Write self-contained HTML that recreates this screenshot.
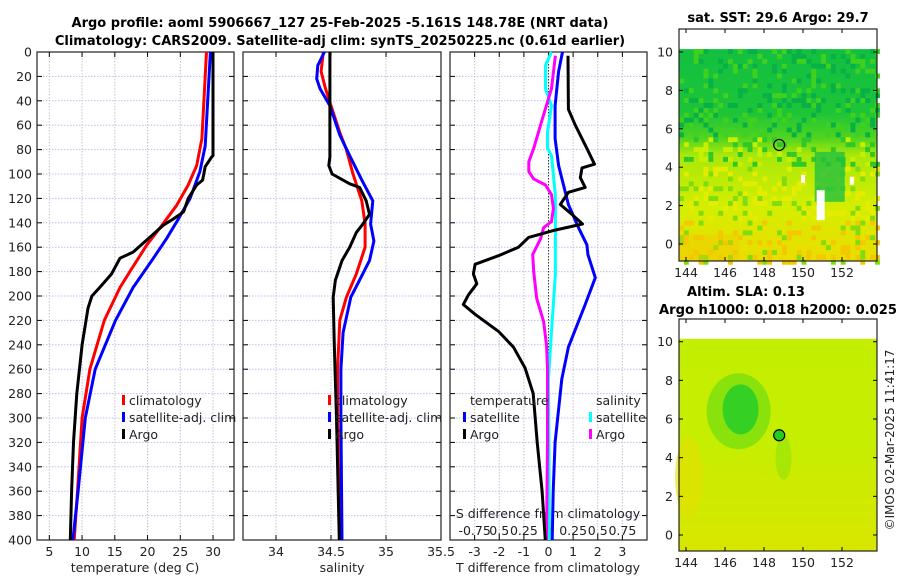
<!DOCTYPE html>
<html><head><meta charset="utf-8"><style>
html,body{margin:0;padding:0;background:#fff;}
svg{display:block;font-family:"DejaVu Sans","Liberation Sans",sans-serif;}
</style></head><body>
<svg id="fig" width="900" height="580" xmlns="http://www.w3.org/2000/svg">
<text x="340" y="27" text-anchor="middle" font-weight="bold" font-size="13">Argo profile: aoml 5906667_127 25-Feb-2025 -5.161S 148.78E (NRT data)</text>
<text x="340" y="45" text-anchor="middle" font-weight="bold" font-size="13">Climatology: CARS2009. Satellite-adj clim: synTS_20250225.nc (0.61d earlier)</text>
<text x="778" y="22" text-anchor="middle" font-weight="bold" font-size="13">sat. SST: 29.6 Argo: 29.7</text>
<text x="746" y="296" text-anchor="middle" font-weight="bold" font-size="13">Altim. SLA: 0.13</text>
<text x="659" y="314" font-weight="bold" font-size="13" textLength="238" lengthAdjust="spacingAndGlyphs">Argo h1000: 0.018 h2000: 0.025</text>
<text transform="translate(894,440) rotate(-90)" text-anchor="middle" font-size="12" fill="#222">©IMOS 02-Mar-2025 11:41:17</text>
<g id="g"></g>
</svg>
<script>
// ---- data (depth in m) ----
const tempArgoDepth=[0,85,86,94,105,109,120,131,137,142,153,164,169,182,193,200,210,240,280,320,360,400];
const tempArgo=[30.0,30.0,29.8,28.8,28.4,27.5,26.2,25.5,23.9,22.4,20.1,17.8,15.8,14.5,12.7,11.5,10.9,10.0,9.2,8.7,8.4,8.2];
const tempClimDepth=[0,71,93,109,126,142,158,180,193,220,260,300,360,400];
const tempClim=[29.0,28.3,27.5,26.2,24.4,22.2,19.9,17.3,15.8,13.4,11.2,10.0,9.3,8.8];
const tempSatDepth=[0,77,98,120,137,153,169,193,220,260,300,360,400];
const tempSat=[29.6,28.8,28.0,26.5,24.7,22.9,20.9,17.8,15.1,12.0,10.5,9.4,8.6];
const salArgoDepth=[0,86,93,100,108,111,122,133,141,148,160,171,187,201,240,300,400];
const salArgo=[34.49,34.49,34.48,34.51,34.67,34.76,34.82,34.85,34.79,34.73,34.67,34.60,34.54,34.52,34.53,34.55,34.575];
const salClimDepth=[0,16,30,44,66,80,100,122,141,160,182,201,220,260,300,400];
const salClim=[34.43,34.41,34.45,34.50,34.58,34.64,34.70,34.78,34.81,34.81,34.73,34.64,34.58,34.56,34.56,34.58];
const salSatDepth=[0,11,22,30,44,68,85,105,122,141,155,171,187,201,230,260,300,400];
const salSat=[34.44,34.38,34.37,34.40,34.49,34.58,34.67,34.78,34.88,34.86,34.89,34.85,34.76,34.68,34.61,34.59,34.59,34.60];
const dTArgoDepth=[3,47,60,79,92,95,103,111,115,125,133,141,146,152,160,167,174,182,190,199,207,215,229,242,259,280,320,360,400];
const dTArgo=[0.79,0.81,1.09,1.56,1.87,1.36,1.29,1.49,0.81,0.48,0.95,1.38,0.27,-0.81,-1.22,-2.03,-2.98,-3.05,-2.91,-3.25,-3.46,-2.98,-2.03,-1.42,-0.95,-0.62,-0.46,-0.26,-0.13];
const dTSatDepth=[0,16,44,71,93,125,144,158,166,185,207,242,268,320,360,400];
const dTSat=[0.57,0.41,0.27,0.27,0.41,0.81,1.22,1.56,1.60,1.90,1.49,0.81,0.54,0.27,0.19,0.15];
const dSSatDepth=[0,11,30,44,66,79,85,118,146,182,229,268,400];
const dSSat=[0.03,-0.03,-0.03,0.03,-0.01,-0.01,0.03,0.07,0.07,0.07,0.03,0.0,0.01];
const dSArgoDepth=[3,30,57,79,90,98,104,109,117,128,139,144,153,166,180,202,221,240,259,320,400];
const dSArgo=[0.07,0.03,-0.07,-0.15,-0.20,-0.20,-0.15,-0.03,0.03,0.05,0.03,-0.05,-0.08,-0.16,-0.15,-0.12,-0.05,-0.02,-0.01,-0.01,-0.02];
const depthTicks=[0,20,40,60,80,100,120,140,160,180,200,220,240,260,280,300,320,340,360,380,400];
const tempTicks=[5,10,15,20,25,30];
const salTicks=[34,34.5,35,35.5];
const dTTicks=[-3,-2,-1,0,1,2,3];
const dSTickLabels=["-0.75","0.5","0.25","0","0.25","0.5","0.75"];
const dSTicks=[-0.75,-0.5,-0.25,0,0.25,0.5,0.75];
const latTicks=[0,2,4,6,8,10];
const lonTicks=[144,146,148,150,152];
const argoLon=148.78, argoLat=5.16;

const NS="http://www.w3.org/2000/svg";
const G=document.getElementById('g');
function mk(tag,attrs,parent){const e=document.createElementNS(NS,tag);for(const k in attrs)e.setAttribute(k,attrs[k]);(parent||G).appendChild(e);return e;}
const Y0=52,Y1=540;
const yD=d=>Y0+(d/400)*(Y1-Y0);
const panels={
 temp:{x0:37,x1:234,d0:3.12,d1:33.2},
 sal:{x0:243,x1:441,d0:33.7,d1:35.5},
 dT:{x0:450,x1:647,d0:-4,d1:4},
};
function sx(p,v){return p.x0+(v-p.d0)/(p.d1-p.d0)*(p.x1-p.x0);}
function frame(p,ticks,name){
  const g=mk('g',{});
  
  
  depthTicks.forEach(d=>{const l=mk('line',{x1:p.x0,x2:p.x1,y1:yD(d),y2:yD(d),stroke:'#b8c4ec','stroke-width':1,'stroke-dasharray':'1.5,1.5'},g);
   
   mk('line',{x1:p.x0,x2:p.x0+5,y1:yD(d),y2:yD(d),stroke:'#000'},g);
   mk('line',{x1:p.x1-5,x2:p.x1,y1:yD(d),y2:yD(d),stroke:'#000'},g);});
  ticks.forEach(v=>{const x=sx(p,v);const l=mk('line',{x1:x,x2:x,y1:Y0,y2:Y1,stroke:'#d0bcd8','stroke-width':1,'stroke-dasharray':'1.5,1.5'},g);
   
   mk('line',{x1:x,x2:x,y1:Y1-5,y2:Y1,stroke:'#000'},g);mk('line',{x1:x,x2:x,y1:Y0,y2:Y0+5,stroke:'#000'},g);});
  mk('rect',{x:p.x0,y:Y0,width:p.x1-p.x0,height:Y1-Y0,fill:'none',stroke:'#222','stroke-width':1.2},g);
  return g;
}
function line(p,vals,deps,color,name,scale){
  const pts=vals.map((v,i)=>(sx(p,v*(scale||1))).toFixed(1)+','+yD(deps[i]).toFixed(1)).join(' ');
  const e=mk('polyline',{points:pts,fill:'none',stroke:color,'stroke-width':3,'stroke-linejoin':'round'});
  
  
}
function text(x,y,s,attrs,name){const t=mk('text',Object.assign({x:x,y:y,'font-size':12.5,fill:'#222'},attrs||{}));t.textContent=s;
  
  return t;}

// panel 1
const P1=panels.temp;
frame(P1,tempTicks,'temperature-panel');
depthTicks.forEach(d=>text(32,yD(d)+4.5,String(d),{'text-anchor':'end'},'depth-tick-label'));
tempTicks.forEach(v=>text(sx(P1,v),556,String(v),{'text-anchor':'middle'},'temp-tick-label'));
text(135,572,'temperature (deg C)',{'text-anchor':'middle'},'temp-axis-title');
line(P1,tempClim,tempClimDepth,'#ff0000','temp-clim-line');
line(P1,tempSat,tempSatDepth,'#0000ff','temp-sat-line');
line(P1,tempArgo,tempArgoDepth,'#000000','temp-argo-line');
// panel 2
const P2=panels.sal;
frame(P2,salTicks,'salinity-panel');
salTicks.forEach(v=>text(sx(P2,v),556,String(v),{'text-anchor':'middle'},'sal-tick-label'));
text(342,572,'salinity',{'text-anchor':'middle'},'sal-axis-title');
line(P2,salClim,salClimDepth,'#ff0000','sal-clim-line');
line(P2,salSat,salSatDepth,'#0000ff','sal-sat-line');
line(P2,salArgo,salArgoDepth,'#000000','sal-argo-line');
// panel 3
const P3=panels.dT;
frame(P3,dTTicks,'difference-panel');
dTTicks.forEach(v=>text(sx(P3,v),556,String(v),{'text-anchor':'middle'},'dT-tick-label'));
text(548,572,'T difference from climatology',{'text-anchor':'middle'},'dT-axis-title');
text(548,518,'S difference from climatology',{'text-anchor':'middle'},'dS-axis-title');
dSTicks.forEach((v,i)=>text(sx(P3,v*4),535,dSTickLabels[i],{'text-anchor':'middle'},'dS-tick-label'));
const zl=mk('line',{x1:sx(P3,0),x2:sx(P3,0),y1:Y0,y2:Y1,stroke:'#333','stroke-width':1,'stroke-dasharray':'1.5,1.5'});


line(P3,dSSat,dSSatDepth,'#00ffff','dS-sat-line',4);
line(P3,dSArgo,dSArgoDepth,'#ff00ff','dS-argo-line',4);
line(P3,dTSat,dTSatDepth,'#0000ff','dT-sat-line');
line(P3,dTArgo,dTArgoDepth,'#000000','dT-argo-line');

// legends
function leg(x,y,color,label,name){
  const g=mk('g',{});
  
  
  mk('rect',{x:x,y:y-10,width:3,height:10,fill:color},g);
  const t=mk('text',{x:x+7,y:y,'font-size':12.5,fill:'#222'},g);t.textContent=label;
}
leg(122,405,'#ff0000','climatology','legend-temp-clim');
leg(122,422,'#0000ff','satellite-adj. clim','legend-temp-sat');
leg(122,439,'#000000','Argo','legend-temp-argo');
leg(328,405,'#ff0000','climatology','legend-sal-clim');
leg(328,422,'#0000ff','satellite-adj. clim','legend-sal-sat');
leg(328,439,'#000000','Argo','legend-sal-argo');
text(470,405,'temperature',{},'legend-temperature-heading');
text(596,405,'salinity',{},'legend-salinity-heading');
leg(463,422,'#0000ff','satellite','legend-dT-sat');
leg(463,439,'#000000','Argo','legend-dT-argo');
leg(589,422,'#00ffff','satellite','legend-dS-sat');
leg(589,439,'#ff00ff','Argo','legend-dS-argo');

// maps
function hash(i,j){let h=(i*374761393+j*668265263)^0x5bd1e995;h=(h^(h>>>13))*1274126177;return ((h^(h>>>16))>>>0)/4294967296;}
function map(top,bot,lat10,lat0,name,kind){
  const mx0=679,mx1=877;
  const lx=lon=>686+(lon-144)*19.5;
  const ly=lat=>lat0+(lat10-lat0)*lat/10;
  const g=mk('g',{});
  
  
  const dataTop=ly(10.15);
  const id=name+'-grad';
  const defs=mk('defs',{},g);
  const lg=mk('linearGradient',{id:id,x1:0,y1:0,x2:0,y2:1},defs);
  const stops=kind==='sst'?[[0,'#12c040'],[0.3,'#1cc438'],[0.42,'#50d420'],[0.5,'#a8e80a'],[0.75,'#d4ee00'],[1,'#ecdc00']]:
    [[0,'#c4ee00'],[0.5,'#c6ee00'],[1,'#d8e600']];
  stops.forEach(s=>mk('stop',{offset:s[0],'stop-color':s[1]},lg));
  mk('rect',{x:mx0,y:dataTop,width:mx1-mx0,height:bot-dataTop,fill:'url(#'+id+')'},g);
  if(kind==='sst'){
    const tex=mk('g',{},g);
    const cs=4.9;
    for(let j=0;j*cs<bot-dataTop;j++)for(let i=0;i*cs<mx1-mx0;i++){
      const r=hash(i,j);if(r>0.3)continue;
      const fy=j*cs/(bot-dataTop);
      let c;
      if(fy<0.4)c=r<0.15?'#08b048':'#40d020';
      else if(fy<0.55)c=r<0.15?'#30c828':'#c8ee00';
      else c=r<0.12?'#80dc10':(fy>0.8?'#f4c800':'#e4ec00');
      mk('rect',{x:mx0+i*cs,y:dataTop+j*cs,width:cs,height:cs,fill:c},tex);
    }
    mk('rect',{x:lx(150.6),y:ly(4.8),width:30,height:50,fill:'#22c040',opacity:0.8},g);
    mk('rect',{x:lx(150.7),y:ly(2.8),width:8,height:30,fill:'#fff'},g);
    mk('rect',{x:lx(149.9),y:ly(3.6),width:4,height:8,fill:'#fff'},g);
    mk('rect',{x:lx(152.4),y:ly(3.5),width:4,height:8,fill:'#fff'},g);
    mk('rect',{x:mx0,y:ly(0.5),width:60,height:bot-ly(0.5),fill:'#f0c800',opacity:0.4},g);
    mk('circle',{cx:lx(argoLon),cy:ly(argoLat),r:5.5,fill:'none',stroke:'#000','stroke-width':1.2},g);
  } else {
    mk('ellipse',{cx:lx(146.7),cy:ly(6.4),rx:32,ry:38,fill:'#7ade10',opacity:0.8},g);
    mk('ellipse',{cx:lx(146.8),cy:ly(6.5),rx:18,ry:25,fill:'#34d024'},g);
    mk('ellipse',{cx:lx(149),cy:ly(4),rx:8,ry:22,fill:'#9ae408',opacity:0.7},g);
    mk('ellipse',{cx:mx0+10,cy:ly(3),rx:14,ry:40,fill:'#e4e000',opacity:0.6},g);
    mk('circle',{cx:lx(argoLon),cy:ly(argoLat),r:5.5,fill:'#22cc22',stroke:'#000','stroke-width':1.2},g);
  }
  mk('rect',{x:mx0,y:top,width:mx1-mx0,height:bot-top,fill:'none',stroke:'#222','stroke-width':1.2},g);
  latTicks.forEach(v=>{const y=ly(v);mk('line',{x1:mx0,x2:mx0+4,y1:y,y2:y,stroke:'#000'},g);mk('line',{x1:mx1-4,x2:mx1,y1:y,y2:y,stroke:'#000'},g);
    text(673,y+4.5,String(v),{'text-anchor':'end'},'map-lat-label');});
  lonTicks.forEach(v=>{const x=lx(v);mk('line',{x1:x,x2:x,y1:bot-4,y2:bot,stroke:'#000'},g);mk('line',{x1:x,x2:x,y1:top,y2:top+4,stroke:'#000'},g);
    text(x,bot+16,String(v),{'text-anchor':'middle'},'map-lon-label');});
}
map(29,261,52,244,'sst-map','sst');
map(319,551,341.7,535,'sla-map','sla');
</script>
</body></html>
